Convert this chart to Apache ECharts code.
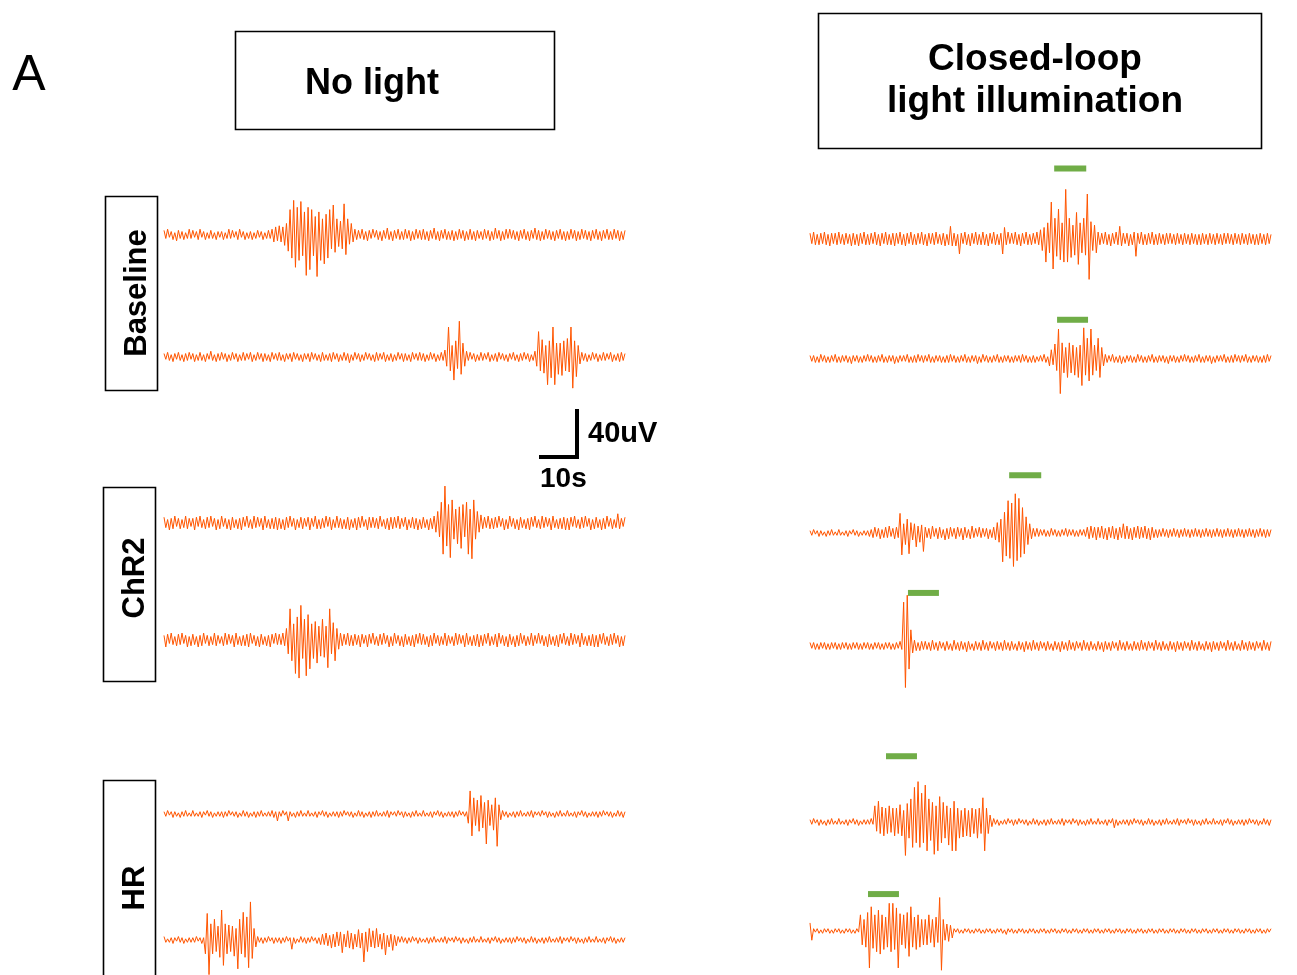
<!DOCTYPE html>
<html>
<head>
<meta charset="utf-8">
<script src="https://cdn.jsdelivr.net/npm/echarts@6/dist/echarts.min.js"></script>
<style>html,body{margin:0;padding:0;background:#fff;}#main{width:1297px;height:975px;}</style>
</head>
<body>
<div id="main"></div>
<script>
// ---- Data: voltage in uV, sampled every 0.5 s from 0 to 128 s ----
const DT = 0.5;
const rowLabels = ['Baseline', 'ChR2', 'HR'];
const colTitles = ['No light', 'Closed-loop\nlight illumination'];

const noLight_Baseline_1 = [
4,-3,5,-2,3,-4,2,-5,4,-3,3,-4,2,-3,5,-3,
4,-2,3,-4,5,-2,3,-4,2,-3,4,-3,2,-4,3,-2,
3,-4,2,-3,5,-3,4,-2,3,-4,5,-2,3,-4,2,-3,
3,-4,2,-3,4,-2,3,-4,2,-3,4,-3,5,-6,7,-5,
8,-6,7,-9,10,-14,22,-20,30,-28,24,-22,29,-18,20,-35,
24,-30,22,-18,16,-36,20,-22,14,-25,18,-20,22,-12,26,-15,
14,-10,12,-12,27,-17,14,-8,10,-6,5,-4,4,-3,5,-4,
3,-5,4,-3,5,-2,4,-4,3,-5,4,-3,6,-4,3,-5,
4,-3,5,-4,3,-4,5,-3,4,-5,3,-4,5,-3,4,-4,
5,-4,3,-5,4,-3,6,-4,3,-5,4,-3,5,-4,3,-4,
4,-5,3,-4,5,-3,4,-5,3,-4,5,-4,3,-5,4,-3,
3,-4,5,-3,4,-5,3,-4,6,-3,4,-5,3,-4,5,-3,
5,-3,4,-4,3,-5,4,-3,5,-4,3,-5,4,-3,6,-4,
4,-5,3,-4,5,-3,4,-4,3,-5,4,-3,5,-4,3,-5,
3,-4,5,-3,4,-5,3,-4,5,-3,4,-4,3,-5,4,-3,
5,-4,3,-5,4,-3,5,-4,3,-4,5,-3,4,-5,3,-4,
4];
const noLight_Baseline_2 = [
3,-2,4,-3,2,-4,3,-2,4,-3,2,-4,3,-3,4,-2,
3,-4,2,-3,4,-3,2,-4,3,-2,5,-3,2,-4,3,-3,
4,-2,3,-4,2,-3,4,-2,3,-4,2,-3,4,-3,3,-2,
4,-4,2,-3,4,-2,3,-4,3,-3,2,-4,4,-2,3,-3,
4,-3,2,-4,3,-2,3,-4,4,-2,3,-3,2,-4,3,-2,
3,-4,4,-2,3,-3,2,-4,4,-3,2,-3,3,-4,4,-2,
3,-4,2,-3,4,-3,3,-5,2,-3,4,-2,3,-4,2,-3,
4,-2,3,-3,2,-4,4,-3,3,-2,4,-4,2,-3,3,-4,
2,-3,4,-2,3,-4,3,-3,2,-4,4,-2,3,-3,4,-3,
3,-4,2,-3,4,-2,3,-4,2,-3,4,-3,6,-8,26,-12,
10,-20,14,-10,31,-15,12,-8,5,-3,4,-2,3,-4,2,-3,
4,-3,3,-2,4,-4,2,-3,3,-4,4,-2,3,-3,2,-4,
3,-2,4,-3,2,-4,3,-3,4,-2,3,-4,2,-3,5,-8,
22,-12,15,-14,10,-24,14,-18,26,-24,12,-15,12,-16,14,-12,
16,-13,26,-27,14,-17,10,-6,4,-3,3,-4,2,-3,4,-2,
3,-4,2,-3,4,-3,3,-2,4,-4,2,-3,3,-4,4,-3,
3];
const noLight_ChR2_1 = [
5,-4,3,-6,4,-5,6,-3,4,-5,3,-4,6,-5,4,-3,
4,-6,5,-3,6,-4,3,-5,5,-4,6,-3,4,-6,3,-5,
6,-3,4,-5,3,-6,5,-4,3,-5,4,-6,5,-3,6,-4,
3,-5,6,-4,5,-3,4,-6,6,-4,3,-5,4,-5,5,-6,
4,-5,3,-6,5,-4,6,-3,4,-6,3,-4,5,-5,4,-3,
5,-6,4,-3,6,-5,3,-5,4,-4,6,-3,5,-6,3,-4,
6,-4,4,-5,3,-5,5,-6,3,-4,4,-6,5,-4,6,-3,
3,-6,5,-4,5,-4,4,-5,6,-3,3,-5,4,-6,5,-5,
5,-4,6,-5,4,-3,5,-6,3,-4,5,-5,4,-6,3,-5,
5,-4,3,-6,4,-5,6,-8,10,-12,18,-27,32,-20,16,-30,
20,-14,12,-18,14,-22,16,-12,18,-27,12,-31,20,-14,10,-8,
7,-5,5,-4,6,-5,4,-5,5,-4,6,-3,4,-6,3,-5,
6,-3,4,-5,3,-6,5,-4,3,-5,4,-6,5,-3,6,-4,
3,-5,6,-4,5,-3,4,-6,6,-4,3,-5,4,-5,5,-6,
4,-6,5,-3,6,-4,3,-5,5,-4,6,-3,4,-6,3,-5,
5,-4,3,-6,4,-5,6,-3,4,-5,3,-4,8,-5,4,-3,
5];
const noLight_ChR2_2 = [
4,-6,5,-3,6,-4,3,-5,5,-4,6,-3,4,-6,3,-5,
5,-4,3,-6,4,-5,6,-3,4,-5,3,-4,6,-5,4,-3,
3,-5,6,-4,5,-3,4,-6,6,-4,3,-5,4,-5,5,-6,
6,-3,4,-5,3,-6,5,-4,3,-5,4,-6,5,-3,6,-4,
5,-4,6,-5,10,-12,27,-18,14,-29,20,-33,30,-16,18,-31,
22,-25,14,-16,16,-20,12,-14,18,-15,12,-24,27,-12,15,-18,
10,-8,6,-5,5,-4,6,-5,4,-5,5,-4,4,-6,5,-3,
4,-6,5,-3,6,-4,3,-5,5,-4,6,-3,4,-6,3,-5,
6,-3,4,-5,3,-6,5,-4,3,-5,4,-6,5,-3,6,-4,
5,-4,3,-6,4,-5,6,-3,4,-5,3,-4,6,-5,4,-3,
3,-5,6,-4,5,-3,4,-6,6,-4,3,-5,4,-5,5,-6,
4,-5,5,-3,6,-5,3,-4,5,-6,6,-3,4,-5,3,-6,
5,-4,3,-6,4,-5,6,-3,4,-5,3,-4,6,-5,4,-3,
6,-3,4,-5,3,-6,5,-4,3,-5,4,-6,5,-3,6,-4,
3,-5,6,-4,5,-3,4,-6,6,-4,3,-5,4,-5,5,-6,
4,-6,5,-3,6,-4,3,-5,5,-4,6,-3,4,-6,3,-5,
4];
const noLight_HR_1 = [
2,-2,3,-1,2,-3,2,-2,1,-3,2,-2,3,-2,1,-2,
3,-2,1,-2,2,-3,2,-1,3,-2,2,-3,1,-2,2,-2,
2,-3,2,-2,3,-1,2,-2,2,-3,1,-2,3,-2,2,-3,
1,-2,2,-3,2,-2,3,-2,1,-2,2,-2,3,-3,2,-6,
2,-2,3,-1,2,-6,2,-2,1,-3,2,-2,3,-2,1,-2,
3,-2,1,-2,2,-3,2,-1,3,-2,2,-3,1,-2,2,-2,
2,-3,2,-2,3,-1,2,-2,2,-3,1,-2,3,-2,2,-3,
1,-2,2,-3,2,-2,3,-2,1,-2,2,-2,3,-3,2,-1,
2,-2,3,-1,2,-3,2,-2,1,-3,2,-2,3,-2,1,-2,
3,-2,1,-2,2,-3,2,-1,3,-2,2,-3,1,-2,2,-2,
2,-3,2,-2,3,-1,2,-2,2,-8,20,-19,14,-10,12,-15,
16,-12,10,-26,12,-10,8,-14,14,-28,8,-5,3,-2,2,-3,
1,-2,2,-3,2,-2,3,-2,1,-2,2,-2,3,-3,2,-1,
2,-2,3,-1,2,-3,2,-2,1,-3,2,-2,3,-2,1,-2,
3,-2,1,-2,2,-3,2,-1,3,-2,2,-3,1,-2,2,-2,
2,-3,2,-2,3,-1,2,-2,2,-3,1,-2,3,-2,2,-3,
2];
const noLight_HR_2 = [
3,-2,1,-2,2,-3,2,-1,3,-2,2,-3,1,-2,2,-2,
2,-2,3,-1,2,-3,2,-12,23,-30,14,-12,18,-10,12,-15,
26,-22,14,-12,13,-10,12,-14,10,-25,18,-12,24,-15,20,-24,
33,-16,10,-6,3,-2,2,-3,2,-2,3,-1,2,-3,2,-2,
2,-3,2,-2,3,-1,2,-8,2,-3,1,-2,3,-2,2,-3,
2,-2,3,-1,2,-3,2,-4,5,-4,6,-5,4,-7,5,-6,
7,-5,7,-11,5,-6,8,-7,6,-8,5,-6,9,-7,6,-19,
7,-10,10,-6,8,-7,10,-6,5,-8,6,-13,4,-6,5,-9,
4,-5,3,-2,3,-2,2,-3,2,-2,3,-1,2,-3,2,-2,
1,-2,2,-3,2,-2,3,-2,1,-2,2,-2,3,-3,2,-1,
2,-2,3,-1,2,-3,2,-2,1,-3,2,-2,3,-2,1,-2,
3,-2,1,-2,2,-3,2,-1,3,-2,2,-3,1,-2,2,-2,
2,-3,2,-2,3,-1,2,-2,2,-3,1,-2,3,-2,2,-3,
1,-2,2,-3,2,-2,3,-2,1,-2,2,-2,3,-3,2,-1,
2,-2,3,-1,2,-3,2,-2,1,-3,2,-2,3,-2,1,-2,
3,-2,1,-2,2,-3,2,-1,3,-2,2,-3,1,-2,2,-2,
2];
const light_Baseline_1 = [
5,-4,6,-5,4,-5,5,-4,6,-5,4,-6,5,-4,5,-5,
6,-4,4,-5,5,-4,4,-6,5,-5,4,-6,5,-4,6,-5,
4,-5,5,-4,6,-5,4,-6,5,-4,6,-5,4,-5,5,-6,
5,-4,6,-5,4,-6,5,-4,6,-5,4,-5,5,-4,6,-5,
4,-6,5,-4,5,-5,6,-4,4,-5,5,-6,4,-5,11,-6,
5,-6,4,-13,5,-4,6,-5,4,-6,5,-4,6,-5,4,-5,
6,-5,4,-6,5,-4,6,-5,4,-5,5,-13,10,-5,6,-4,
5,-4,6,-5,4,-6,5,-4,6,-5,4,-5,5,-4,6,-5,
8,-10,10,-20,14,-12,32,-26,18,-15,26,-18,14,-20,43,-20,
18,-16,12,-14,23,-22,14,-12,18,-14,39,-35,15,-10,12,-12,
6,-5,5,-4,6,-5,4,-6,5,-4,6,-5,11,-6,5,-4,
5,-6,4,-5,6,-15,5,-4,6,-5,4,-5,5,-4,6,-5,
4,-5,5,-4,4,-5,5,-4,5,-4,4,-5,5,-4,4,-5,
5,-4,4,-5,5,-4,4,-5,4,-5,5,-4,4,-5,5,-4,
4,-5,5,-4,4,-5,5,-4,5,-4,4,-5,5,-4,4,-5,
5,-4,4,-5,5,-4,4,-5,4,-5,5,-4,4,-5,5,-4,
4];
const light_Baseline_2 = [
3,-2,3,-3,2,-3,4,-2,3,-3,2,-3,3,-2,4,-3,
2,-3,3,-2,3,-3,2,-4,3,-2,3,-3,2,-3,3,-2,
4,-2,3,-3,2,-3,3,-2,4,-3,2,-3,3,-2,3,-4,
2,-3,3,-2,3,-2,4,-3,2,-3,3,-3,4,-2,3,-3,
3,-2,4,-3,2,-3,3,-2,3,-3,2,-3,3,-3,4,-2,
3,-3,2,-3,3,-2,4,-3,2,-3,3,-2,3,-4,2,-3,
4,-2,3,-3,2,-3,3,-2,4,-3,2,-3,3,-2,3,-3,
2,-3,3,-2,3,-3,4,-2,3,-3,2,-3,3,-3,2,-2,
3,-2,4,-3,2,-6,8,-5,13,-10,26,-30,14,-12,10,-16,
14,-12,12,-14,10,-16,12,-23,27,-14,18,-19,26,-14,12,-10,
18,-16,10,-6,4,-3,3,-2,4,-3,2,-3,3,-4,2,-3,
3,-2,3,-3,2,-3,4,-2,3,-3,2,-3,3,-2,4,-3,
2,-3,3,-2,3,-3,2,-4,3,-2,3,-3,2,-3,3,-2,
4,-2,3,-3,2,-3,3,-2,4,-3,2,-3,3,-2,3,-4,
2,-3,3,-2,3,-2,4,-3,2,-3,3,-3,4,-2,3,-3,
3,-2,4,-3,2,-3,3,-2,3,-3,2,-3,3,-3,4,-2,
3];
const light_ChR2_1 = [
2,-2,3,-1,2,-3,2,-2,1,-3,2,-2,3,-2,1,-2,
3,-2,1,-2,2,-3,2,-1,3,-2,2,-3,1,-2,2,-2,
2,-3,3,-4,5,-3,4,-5,3,-4,5,-4,6,-3,4,-5,
5,-4,17,-19,8,-10,12,-18,9,-6,8,-12,6,-8,7,-16,
5,-4,4,-5,6,-3,4,-5,5,-4,3,-6,4,-5,5,-3,
4,-5,5,-3,4,-6,5,-4,3,-5,6,-4,4,-3,5,-4,
4,-3,4,-5,3,-4,5,-6,9,-8,12,-25,18,-20,28,-22,
26,-29,34,-24,30,-21,22,-18,14,-10,8,-5,4,-3,4,-3,
3,-2,3,-3,2,-3,4,-2,3,-3,2,-3,3,-2,4,-3,
3,-2,3,-3,2,-3,3,-2,3,-3,5,-5,6,-4,5,-6,
5,-4,6,-5,4,-6,5,-4,6,-5,4,-6,5,-4,8,-5,
6,-5,4,-6,5,-4,6,-5,5,-4,6,-5,4,-6,5,-4,
3,-4,3,-3,4,-3,3,-4,3,-3,4,-3,3,-4,3,-3,
4,-3,3,-4,3,-3,4,-3,3,-4,3,-3,4,-3,3,-4,
3,-3,4,-3,3,-4,3,-3,4,-3,3,-4,3,-3,4,-3,
3,-4,3,-3,4,-3,3,-4,3,-3,4,-3,3,-4,3,-3,
3];
const light_ChR2_2 = [
3,-2,3,-3,2,-3,3,-2,3,-3,2,-3,3,-2,3,-3,
2,-3,3,-2,3,-3,2,-3,3,-2,3,-3,2,-3,3,-2,
3,-3,2,-3,3,-2,3,-3,2,-3,3,-2,3,-3,2,-3,
3,-2,4,-3,38,-36,44,-20,14,-6,5,-4,3,-4,4,-3,
4,-3,3,-4,5,-3,3,-4,4,-2,3,-4,4,-3,2,-4,
5,-3,3,-4,4,-3,3,-5,4,-3,2,-4,4,-3,3,-4,
5,-3,3,-4,4,-2,3,-4,4,-3,3,-4,5,-3,3,-4,
4,-3,2,-4,4,-3,3,-5,4,-3,3,-4,5,-3,3,-4,
4,-2,3,-4,4,-3,2,-4,4,-3,3,-5,4,-3,3,-4,
5,-3,3,-4,4,-2,3,-4,5,-3,3,-4,4,-3,2,-4,
4,-3,3,-5,4,-3,3,-4,4,-2,3,-4,5,-3,3,-4,
4,-3,2,-4,4,-3,3,-4,5,-3,3,-4,4,-2,3,-4,
5,-3,3,-4,4,-3,2,-4,4,-3,3,-5,4,-3,3,-4,
4,-2,3,-4,5,-3,3,-4,4,-3,2,-4,4,-3,3,-5,
4,-3,3,-4,4,-2,3,-4,5,-3,3,-4,4,-3,2,-4,
5,-3,3,-4,4,-3,3,-4,4,-2,3,-4,5,-3,3,-4,
4];
const light_HR_1 = [
2,-2,3,-1,2,-3,2,-2,1,-3,2,-2,3,-2,1,-2,
3,-2,1,-2,2,-3,2,-1,3,-2,2,-3,1,-2,2,-2,
2,-2,3,-2,14,-8,18,-10,13,-12,12,-10,14,-9,12,-12,
12,-10,15,-12,10,-29,16,-14,20,-22,30,-18,35,-22,25,-18,
32,-25,20,-16,17,-28,14,-25,22,-18,17,-14,14,-20,12,-25,
18,-25,12,-14,10,-13,12,-12,10,-13,12,-10,11,-14,12,-10,
21,-25,12,-10,6,-4,3,-2,2,-3,1,-2,2,-2,3,-1,
2,-3,2,-2,3,-1,2,-2,2,-3,1,-2,3,-2,2,-3,
1,-2,2,-3,2,-2,3,-2,1,-2,2,-2,3,-3,2,-1,
2,-2,3,-1,2,-3,2,-2,1,-3,2,-2,3,-2,1,-2,
3,-2,1,-2,2,-3,2,-1,3,-5,2,-3,1,-2,2,-2,
2,-3,2,-2,3,-1,2,-2,2,-3,1,-2,3,-2,2,-3,
1,-2,2,-3,2,-2,3,-2,1,-2,2,-2,3,-3,2,-1,
2,-2,3,-1,2,-3,2,-2,1,-3,2,-2,3,-2,1,-2,
3,-2,1,-2,2,-3,2,-1,3,-2,2,-3,1,-2,2,-2,
2,-3,2,-2,3,-1,2,-2,2,-3,1,-2,3,-2,2,-3,
2];
const light_HR_2 = [
7,-8,2,-1,2,-2,1,-2,2,-1,2,-2,1,-2,2,-1,
2,-2,1,-2,2,-1,2,-2,1,-2,2,-1,14,-12,10,-14,
16,-32,21,-15,14,-18,18,-20,14,-16,12,-14,24,-18,24,-16,
20,-32,15,-12,14,-15,16,-22,21,-14,12,-16,14,-14,10,-12,
10,-12,14,-10,10,-14,12,-10,29,-34,10,-8,6,-9,5,-6,
2,-1,2,-2,1,-2,2,-1,2,-2,1,-2,2,-1,2,-2,
1,-2,2,-1,2,-2,1,-2,2,-1,2,-2,1,-3,2,-1,
2,-2,1,-2,2,-1,2,-2,1,-2,2,-1,2,-2,1,-2,
2,-1,2,-2,1,-2,2,-1,2,-2,1,-2,2,-1,2,-2,
1,-2,2,-1,2,-2,1,-2,2,-1,2,-2,1,-2,2,-1,
2,-2,1,-2,2,-1,2,-2,1,-2,2,-1,2,-2,1,-2,
2,-1,2,-2,1,-2,2,-1,2,-2,1,-2,2,-1,2,-2,
1,-2,2,-1,2,-2,1,-2,2,-1,2,-2,1,-2,2,-1,
2,-2,1,-2,2,-1,2,-2,1,-2,2,-1,2,-2,1,-2,
2,-1,2,-2,1,-2,2,-1,2,-2,1,-2,2,-1,2,-2,
1,-2,2,-1,2,-2,1,-2,2,-1,2,-2,1,-2,2,-1,
2];

// light-on periods for the closed-loop traces (s) and the bar level (uV)
const lightStart = [67.8, 68.6, 55.3, 27.2, 21.1, 16.1];
const lightEnd   = [76.7, 77.2, 64.2, 35.8, 29.7, 24.7];
const lightLevel = [61, 34, 50, 46, 57, 32];

// scale bar
const scaleTime = 10;   // s
const scaleVolt = 40;   // uV

// ---- Layout ----
const leftTraces  = [noLight_Baseline_1, noLight_Baseline_2, noLight_ChR2_1, noLight_ChR2_2, noLight_HR_1, noLight_HR_2];
const rightTraces = [light_Baseline_1, light_Baseline_2, light_ChR2_1, light_ChR2_2, light_HR_1, light_HR_2];
const leftCenters  = [235, 357, 523, 640, 814, 940];
const rightCenters = [239, 359, 533, 646, 822, 931];
const COL_X = [164, 810];
const TRACE_W = 461;
const GRID_H = 60;    // px for 52 uV  (1.154 px / uV, matching the 40 uV bar)
const Y_HALF = 26;
const T_MAX = 128;
const ORANGE = '#FF5500';
const GREEN = '#70AD47';
const FONT = '"Liberation Sans", Arial, Helvetica, sans-serif';

const grids = [], xAxes = [], yAxes = [], series = [];
function addGrid(left, top, width, height, xmin, xmax, ymin, ymax) {
  grids.push({ left: left, top: top, width: width, height: height, containLabel: false });
  const idx = grids.length - 1;
  xAxes.push({ type: 'value', gridIndex: idx, min: xmin, max: xmax, show: false });
  yAxes.push({ type: 'value', gridIndex: idx, min: ymin, max: ymax, show: false });
  return idx;
}
function toPts(arr) { return arr.map((v, i) => [i * DT, v]); }

[leftTraces, rightTraces].forEach((traces, col) => {
  const centers = col === 0 ? leftCenters : rightCenters;
  traces.forEach((tr, k) => {
    const g = addGrid(COL_X[col], centers[k] - GRID_H / 2, TRACE_W, GRID_H, 0, T_MAX, -Y_HALF, Y_HALF);
    series.push({
      type: 'line', xAxisIndex: g, yAxisIndex: g, data: toPts(tr), clip: false,
      symbol: 'none', showSymbol: false, silent: true, animation: false, sampling: null,
      lineStyle: { color: ORANGE, width: 1.0 }, z: 2
    });
    if (col === 1) {
      series.push({
        type: 'line', xAxisIndex: g, yAxisIndex: g, clip: false,
        data: [[lightStart[k], lightLevel[k]], [lightEnd[k], lightLevel[k]]],
        symbol: 'none', silent: true, animation: false,
        lineStyle: { color: GREEN, width: 6, cap: 'butt' }, z: 3
      });
    }
  });
});

// scale bar grid: 10 s x 40 uV, same px/unit as traces
const sg = addGrid(541, 411, 36, 46, 0, scaleTime, 0, scaleVolt);
series.push({
  type: 'line', xAxisIndex: sg, yAxisIndex: sg, clip: false,
  data: [[scaleTime, scaleVolt], [scaleTime, 0], [0, 0]],
  symbol: 'none', silent: true, animation: false,
  lineStyle: { color: '#000', width: 4, join: 'miter', cap: 'square' }
});

function txt(x, y, text, size, weight, align, rot) {
  return {
    type: 'text', x: x, y: y, rotation: rot || 0, silent: true,
    style: { text: text, font: weight + ' ' + size + 'px ' + FONT, fill: '#000',
      textAlign: align || 'center', textVerticalAlign: 'middle', verticalAlign: 'middle', lineHeight: 42 }
  };
}
function box(x, y, w, h) {
  return { type: 'rect', shape: { x: x, y: y, width: w, height: h }, silent: true,
    style: { fill: 'none', stroke: '#000', lineWidth: 1.6 } };
}

const graphic = [
  txt(29, 76, 'A', 50, 'normal'),
  box(235.5, 31.5, 319, 98),
  txt(372, 84, colTitles[0], 36, 'bold'),
  box(818.5, 13.5, 443, 135),
  txt(1035, 81, colTitles[1], 37, 'bold'),
  box(105.5, 196.5, 52, 194),
  txt(137, 293, rowLabels[0], 31, 'bold', 'center', Math.PI / 2),
  box(103.5, 487.5, 52, 194),
  txt(135, 578, rowLabels[1], 31, 'bold', 'center', Math.PI / 2),
  box(103.5, 780.5, 52, 210),
  txt(135, 888, rowLabels[2], 31, 'bold', 'center', Math.PI / 2),
  txt(588, 434, scaleVolt + 'uV', 29, 'bold', 'left'),
  txt(540, 479, scaleTime + 's', 28, 'bold', 'left')
];

const chart = echarts.init(document.getElementById('main'), null, { renderer: 'canvas' });
chart.setOption({
  backgroundColor: '#fff',
  animation: false,
  grid: grids, xAxis: xAxes, yAxis: yAxes,
  series: series,
  graphic: graphic
});
</script>
</body>
</html>
